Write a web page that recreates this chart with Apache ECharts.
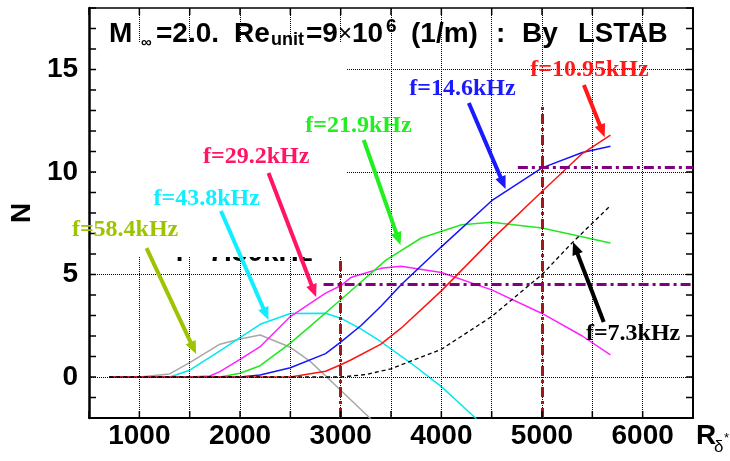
<!DOCTYPE html>
<html><head><meta charset="utf-8">
<script src="https://cdn.jsdelivr.net/npm/echarts@6/dist/echarts.min.js"></script>
<style>html,body{margin:0;padding:0;background:#fff}#c{width:730px;height:461px}</style>
</head><body><div id="c"></div>
<script>
// ---- tick labels ----
const xLabels = [1000, 2000, 3000, 4000, 5000, 6000];
const yLabels = [0, 5, 10, 15];
const xTicks = [500, 1000, 1500, 2000, 2500, 3000, 3500, 4000, 4500, 5000, 5500, 6000, 6500];
const yTicks = [-2, -1, 0, 1, 2, 3, 4, 5, 6, 7, 8, 9, 10, 11, 12, 13, 14, 15, 16, 17, 18];

// ---- series values: [R_delta*, N] ----
const f58 = [[700,0],[1000,0],[1300,0.15],[1500,0.7],[1800,1.6],[2000,1.85],[2200,2.05],[2500,1.45],[2700,0.75],[3000,-0.65],[3300,-2.05]];
const f43 = [[700,0],[1300,0],[1500,0.33],[1800,1.27],[2200,2.57],[2500,3.1],[2850,3.11],[3000,2.87],[3200,2.35],[3400,1.72],[3700,0.67],[4000,-0.47],[4250,-1.6],[4350,-2.05]];
const f29 = [[700,0],[1500,0],[1700,0.05],[1800,0.26],[2000,0.86],[2200,1.48],[2500,2.95],[2850,4.09],[3000,4.45],[3100,4.85],[3400,5.3],[3600,5.4],[4000,5.1],[4500,4.25],[5000,3.1],[5400,2.0],[5680,1.08]];
const f21 = [[700,0],[1800,0],[2000,0.18],[2200,0.55],[2500,1.65],[2750,2.7],[3000,3.77],[3450,5.7],[3800,6.78],[4200,7.43],[4500,7.55],[5000,7.27],[5680,6.54]];
const f14 = [[700,0],[2000,0],[2200,0.1],[2500,0.45],[2850,1.14],[3000,1.7],[3200,2.5],[3400,3.45],[3600,4.5],[4000,6.35],[4500,8.6],[5000,10.2],[5400,10.95],[5680,11.26]];
const f10 = [[700,0],[2500,0],[2850,0.28],[3000,0.6],[3100,0.83],[3400,1.6],[3600,2.38],[4000,4.2],[4500,6.7],[5000,9.05],[5400,10.9],[5680,11.8]];
const f7 = [[700,0],[3000,0],[3250,0.12],[3500,0.4],[4000,1.35],[4500,2.95],[5000,5.0],[5300,6.55],[5680,8.36]];

// ---- reference lines ----
const vRef = [[3000,-2,5.8],[5000,-2,13.27]];          // x, from N, to N
const hRef = [[4.53,2830,6500],[10.25,4760,6500]];     // N, from x, to x

// ---- annotations (data coords): label left/baseline, arrow start, arrow tip ----
const notes = [
  {t:'f=58.4kHz', c:'#9cc400', lab:[330,6.78],  a0:[1071,6.29],  a1:[1564,1.12]},
  {t:'f=43.8kHz', c:'#11eeff', lab:[1140,8.29], a0:[1810,8.1],   a1:[2283,2.78]},
  {t:'f=29.2kHz', c:'#ff1466', lab:[1633,10.34],a0:[2283,9.95],  a1:[2756,3.9]},
  {t:'f=21.9kHz', c:'#22ee22', lab:[2648,11.85],a0:[3229,11.56], a1:[3594,6.44]},
  {t:'f=14.6kHz', c:'#1a1aff', lab:[3682,13.66],a0:[4273,13.37], a1:[4638,9.17]},
  {t:'f=10.95kHz',c:'#ff1a1a', lab:[4884,14.59],a0:[5416,14.24], a1:[5623,11.7]},
  {t:'f=7.3kHz',  c:'#000000', lab:[5436,1.71], a0:[5613,2.68],  a1:[5308,6.59]}
];

const chart = echarts.init(document.getElementById('c'), null, {renderer:'canvas'});
const SANS = '"Liberation Sans", Arial, sans-serif';
const SERIF = '"Liberation Serif", "Times New Roman", serif';
function axLine(w){ return {show:true, onZero:false, lineStyle:{color:'#000', width:w}}; }
const noTick = {show:false};
const lab = {fontSize:28, fontWeight:'bold', color:'#000', fontFamily:SANS, formatter:v=>String(v)};
const TICK = 7;

function line(data, color, extra) {
  return Object.assign({type:'line', data, showSymbol:false, symbol:'none', smooth:false,
    lineStyle:{color, width:1.5}, z:3, silent:true}, extra||{});
}
function txt(x, base, s, font, size, color, z) {
  return {type:'text', z:z||40, style:{text:s, x, y:base - 0.35*size, font:'bold '+size+'px '+font, fill:color, verticalAlign:'middle', align:'left'}};
}
function txtN(x, base, s, font, size, color) {
  return {type:'text', z:40, style:{text:s, x, y:base - 0.35*size, font:size+'px '+font, fill:color, verticalAlign:'middle', align:'left'}};
}

const titleEls = [
  txt(109,44,'M',SANS,28,'#000'),
  txt(141,48,'\u221e',SANS,15,'#000'),
  txt(156,44,'=2.0.',SANS,28,'#000'),
  txt(234,44,'Re',SANS,28,'#000'),
  txt(271,46,'unit',SANS,18,'#000'),
  txt(306,44,'=9',SANS,28,'#000'),
  txtN(338,43,'\u00d7',SANS,24,'#000'),
  txt(352,44,'10',SANS,28,'#000'),
  txt(386,33,'6',SANS,19,'#000'),
  txt(411,44,'(1/m)',SANS,28,'#000'),
  txt(496,44,':',SANS,28,'#000'),
  txt(522,44,'By',SANS,28,'#000'),
  txt(578,44,'LSTAB',SANS,27.5,'#000'),
  // x axis name
  txt(696,446,'R',SANS,28,'#000'),
  txtN(714,453,'\u03b4',SANS,17,'#000'),
  txtN(724,443,'*',SANS,13,'#000'),
  // white patch of the original figure
  {type:'rect', z:10, shape:{x:97, y:43, width:250, height:214}, style:{fill:'#fff'}},
  // partly hidden text
  txt(175,263,'f= 7.30kHz',SANS,28,'#000',5)
];

const option = {
  animation:false,
  grid:{left:84, right:37, top:8, bottom:43, containLabel:false},
  xAxis:[
    {type:'value', min:500, max:6500, interval:500, axisLine:axLine(2), axisTick:noTick,
     axisLabel:Object.assign({margin:4, customValues:xLabels}, lab),
     splitLine:{show:false}},
    {type:'value', position:'top', min:500, max:6500, interval:500, axisLine:axLine(1.5), axisTick:noTick,
     axisLabel:{show:false}, splitLine:{show:false}}
  ],
  yAxis:[
    {type:'value', min:-2, max:18, interval:1, axisLine:axLine(2.5), axisTick:noTick,
     axisLabel:Object.assign({margin:11, customValues:yLabels}, lab),
     splitLine:{show:false},
     name:'N', nameLocation:'middle', nameGap:45, nameRotate:90,
     nameTextStyle:{fontSize:28, fontWeight:'bold', color:'#000', fontFamily:SANS}},
    {type:'value', position:'right', min:-2, max:18, interval:1, axisLine:axLine(2), axisTick:noTick,
     axisLabel:{show:false}, splitLine:{show:false}}
  ],
  series:[
    {type:'line', data:[], silent:true, z:1,
     markLine:{silent:true, symbol:'none', label:{show:false}, animation:false,
       lineStyle:{type:'dotted', color:'#000', width:1},
       data:yLabels.map(v=>({yAxis:v})).concat(xTicks.slice(1,-1).map(v=>({xAxis:v})))}},
    line(f58,'#a8a8a8'),
    line(f43,'#00e8f0'),
    line(f29,'#ff22ff'),
    line(f21,'#22e822'),
    line(f14,'#1414ff'),
    line(f10,'#ff1414'),
    line(f7,'#000', {lineStyle:{color:'#000', width:1.3, type:[4,3]}}),
    {type:'line', data:[], silent:true, z:4,
     markLine:{silent:true, symbol:'none', label:{show:false}, animation:false,
       data:[
         ...vRef.map(r=>[{coord:[r[0],r[1]], lineStyle:{color:'#a01818', width:3, type:[10,4,3,4]}},{coord:[r[0],r[2]]}]),
         ...hRef.map(r=>[{coord:[r[1],r[0]], lineStyle:{color:'#800080', width:3, type:[10,4,3,4]}},{coord:[r[2],r[0]]}])
       ]}}
  ],
  graphic:{elements:titleEls}
};
chart.setOption(option);

function arrow(p0, p1, color) {
  const dx = p1[0]-p0[0], dy = p1[1]-p0[1];
  const L = Math.hypot(dx, dy), ux = dx/L, uy = dy/L;
  const hl = 13, hw = 5.5;
  const bx = p1[0]-ux*hl, by = p1[1]-uy*hl;
  return [
    {type:'line', z:30, shape:{x1:p0[0], y1:p0[1], x2:bx+ux*2, y2:by+uy*2}, style:{stroke:color, lineWidth:4}},
    {type:'polygon', z:30, shape:{points:[[p1[0],p1[1]],[bx-uy*hw,by+ux*hw],[bx+uy*hw,by-ux*hw]]}, style:{fill:color}}
  ];
}
const extra = [];
// tick marks on all four sides, placed through the grid's own scales
const c0 = chart.convertToPixel({gridIndex:0}, [500, -2]);
const c1 = chart.convertToPixel({gridIndex:0}, [6500, 18]);
const L = c0[0], R = c1[0], B = c0[1], T = c1[1];
const tst = {stroke:'#000', lineWidth:1.5};
xTicks.forEach(v => {
  const x = chart.convertToPixel({xAxisIndex:0}, v);
  extra.push({type:'line', z:20, shape:{x1:x, y1:B, x2:x, y2:B-TICK}, style:tst});
  extra.push({type:'line', z:20, shape:{x1:x, y1:T, x2:x, y2:T+TICK}, style:tst});
});
yTicks.forEach(v => {
  const y = chart.convertToPixel({yAxisIndex:0}, v);
  extra.push({type:'line', z:20, shape:{x1:L, y1:y, x2:L+TICK, y2:y}, style:tst});
  extra.push({type:'line', z:20, shape:{x1:R, y1:y, x2:R-TICK, y2:y}, style:tst});
});
notes.forEach(n => {
  const p = chart.convertToPixel({gridIndex:0}, n.lab);
  const a0 = chart.convertToPixel({gridIndex:0}, n.a0);
  const a1 = chart.convertToPixel({gridIndex:0}, n.a1);
  extra.push(...arrow(a0, a1, n.c));
  extra.push(txt(p[0], p[1], n.t, SERIF, 24, n.c, 40));
});
chart.setOption({graphic:{elements:titleEls.concat(extra)}});
</script>
</body></html>
